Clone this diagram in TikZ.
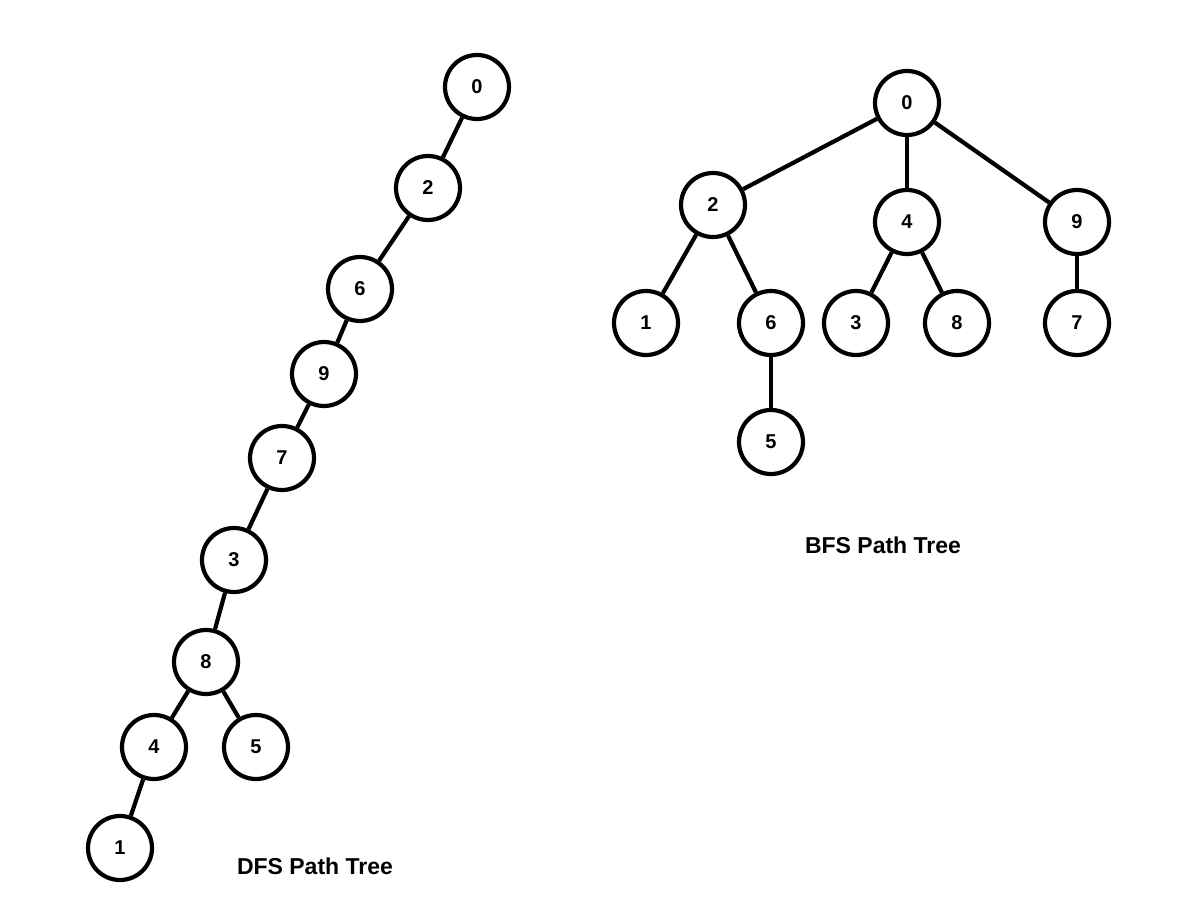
\documentclass[tikz,border=0pt]{standalone}
\usepackage{fontspec}
\setmainfont{Liberation Sans}
\begin{document}
\begin{tikzpicture}[x=1pt,y=-1pt,
  vert/.style={circle,draw=black,line width=4.2pt,minimum size=64pt,inner sep=0pt,fill=white,font=\fontsize{20}{23}\selectfont\bfseries},
  edge/.style={line width=4.2pt,black},
  caption/.style={font=\fontsize{23}{27}\selectfont\bfseries,inner sep=0pt}]
\useasboundingbox (0,0) rectangle (1190,912);
% DFS tree
\node[vert] (d0) at (477,87) {0};
\node[vert] (d2) at (428,188) {2};
\node[vert] (d6) at (360,289) {6};
\node[vert] (d9) at (324,374) {9};
\node[vert] (d7) at (282,458) {7};
\node[vert] (d3) at (234,560) {3};
\node[vert] (d8) at (206,662) {8};
\node[vert] (d4) at (154,747) {4};
\node[vert] (d5) at (256,747) {5};
\node[vert] (d1) at (120,848) {1};
\node[caption] (dl) at (315,866) {DFS Path Tree};
\draw[edge] (d0) -- (d2);
\draw[edge] (d2) -- (d6);
\draw[edge] (d6) -- (d9);
\draw[edge] (d9) -- (d7);
\draw[edge] (d7) -- (d3);
\draw[edge] (d3) -- (d8);
\draw[edge] (d8) -- (d4);
\draw[edge] (d8) -- (d5);
\draw[edge] (d4) -- (d1);
% BFS tree
\node[vert] (b0) at (907,103) {0};
\node[vert] (b2) at (713,205) {2};
\node[vert] (b4) at (907,222) {4};
\node[vert] (b9) at (1077,222) {9};
\node[vert] (b1) at (646,323) {1};
\node[vert] (b6) at (771,323) {6};
\node[vert] (b3) at (856,323) {3};
\node[vert] (b8) at (957,323) {8};
\node[vert] (b7) at (1077,323) {7};
\node[vert] (b5) at (771,442) {5};
\node[caption] (bl) at (883,545) {BFS Path Tree};
\draw[edge] (b0) -- (b2);
\draw[edge] (b0) -- (b4);
\draw[edge] (b0) -- (b9);
\draw[edge] (b2) -- (b1);
\draw[edge] (b2) -- (b6);
\draw[edge] (b4) -- (b3);
\draw[edge] (b4) -- (b8);
\draw[edge] (b9) -- (b7);
\draw[edge] (b6) -- (b5);
\end{tikzpicture}
\end{document}
